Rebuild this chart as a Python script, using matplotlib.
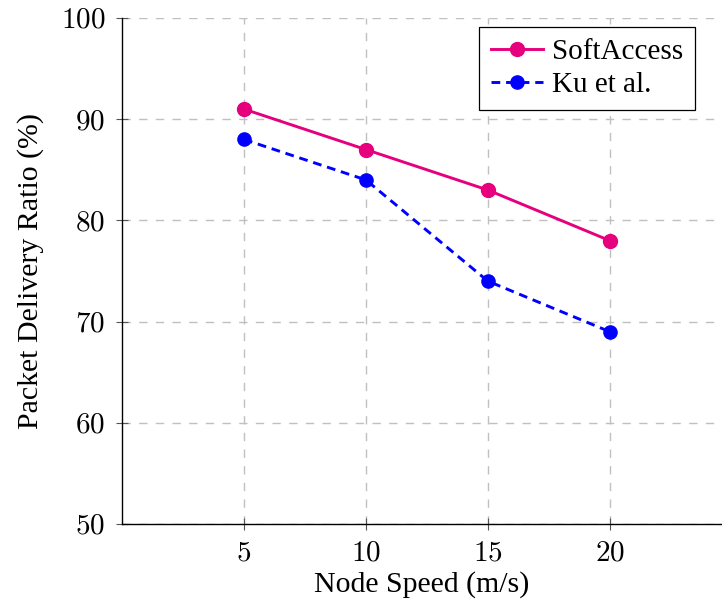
import matplotlib
matplotlib.use('Agg')
import matplotlib.pyplot as plt

speeds = [5, 10, 15, 20]
softaccess = [91, 87, 83, 78]
ku = [88, 84, 74, 69]
yticks = [50, 60, 70, 80, 90, 100]

plt.rcParams['font.family'] = ['Liberation Serif', 'DejaVu Serif']
plt.rcParams['mathtext.fontset'] = 'cm'

fig = plt.figure(figsize=(7.22, 6.02), dpi=100)
ax = fig.add_axes([122/722, 1 - 524/602, 1 - 122/722, (524 - 18)/602])

ax.plot(speeds, softaccess, color="#E6007E", lw=2.1, marker="o", ms=10, label="SoftAccess")
ax.plot(speeds, ku, color="#0000FF", lw=2.1, ls=(0, (3, 2)), marker="o", ms=9.5, label="Ku et al.")

ax.set_xlim(0, 24.6)
ax.set_ylim(50, 100)
ax.set_xticks(speeds)
ax.set_xticklabels([f"${s}$" for s in speeds])
ax.set_yticks(yticks)
ax.set_yticklabels([f"${v}$" for v in yticks])
ax.tick_params(direction="inout", length=9, width=0.8, color="#555555", labelsize=21, pad=7.5)
ax.spines["top"].set_visible(False)
ax.spines["right"].set_visible(False)
ax.spines["left"].set_linewidth(1.0)
ax.spines["bottom"].set_linewidth(1.0)
ax.grid(True, ls=(0, (6, 6)), color="#c0c0c0", lw=1)
ax.set_axisbelow(True)

ax.set_xlabel("Node Speed (m/s)", fontsize=21.5, labelpad=3.5)
ax.set_ylabel("Packet Delivery Ratio (%)", fontsize=21.5, labelpad=12)

leg = ax.legend(loc="upper right", bbox_to_anchor=((695 - 122) / 600, 1 - 9 / 506), fontsize=21,
                fancybox=False, edgecolor="black", framealpha=1, handlelength=1.8,
                handletextpad=0.3, labelspacing=0.22, borderpad=0.4, borderaxespad=0)
leg.get_frame().set_linewidth(0.9)

plt.savefig("out.png", dpi=100)
plt.close()
